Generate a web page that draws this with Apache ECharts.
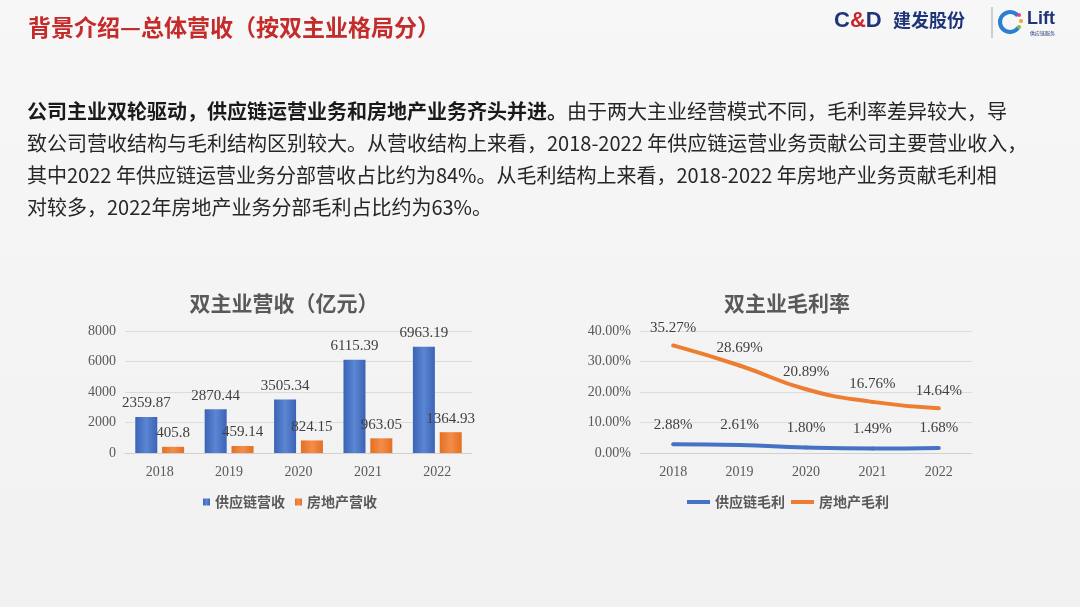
<!DOCTYPE html>
<html>
<head>
<meta charset="utf-8">
<script src="https://cdn.jsdelivr.net/npm/echarts@6/dist/echarts.min.js"></script>
<style>
html,body{margin:0;padding:0;background:#f4f4f4;}
#main{width:1080px;height:607px;}
</style>
</head>
<body>
<div id="main"></div>
<script>
// ---- data ----
var years = ['2018', '2019', '2020', '2021', '2022'];
var supplyRevenue = [2359.87, 2870.44, 3505.34, 6115.39, 6963.19];
var realEstateRevenue = [405.8, 459.14, 824.15, 963.05, 1364.93];
var supplyMargin = [2.88, 2.61, 1.80, 1.49, 1.68];
var realEstateMargin = [35.27, 28.69, 20.89, 16.76, 14.64];
var revenueNames = ['供应链营收', '房地产营收'];
var marginNames = ['供应链毛利', '房地产毛利'];

var cjk = '"Noto Sans CJK SC", "Noto Sans", sans-serif';
var serif = '"Liberation Serif", "DejaVu Serif", serif';
var blue = '#4472c4', orange = '#ed7d31', grey = '#595959';

var chart = echarts.init(document.getElementById('main'));

function barGrad(c1, c2) {
  return new echarts.graphic.LinearGradient(0, 0, 1, 0, [
    {offset: 0, color: c1}, {offset: 0.5, color: c2}, {offset: 1, color: c1}
  ]);
}
function pct(p) { return p.value.toFixed(2) + '%'; }

var option = {
  backgroundColor: new echarts.graphic.LinearGradient(0, 0, 0, 1, [
    {offset: 0, color: '#f7f7f7'}, {offset: 1, color: '#f1f1f1'}
  ]),
  animation: false,
  title: [
    {text: '双主业营收（亿元）', left: 279, top: 288, textAlign: 'center',
     textStyle: {fontFamily: cjk, fontSize: 21, fontWeight: 'bold', color: grey}},
    {text: '双主业毛利率', left: 782, top: 288, textAlign: 'center',
     textStyle: {fontFamily: cjk, fontSize: 21, fontWeight: 'bold', color: grey}}
  ],
  legend: [
    {data: revenueNames, left: 198, top: 490, icon: 'rect',
     itemWidth: 7, itemHeight: 7, itemGap: 10,
     textStyle: {fontFamily: cjk, fontSize: 14, color: grey, fontWeight: 'bold'}},
    {data: marginNames, left: 682, top: 490, icon: 'rect', itemWidth: 23, itemHeight: 4, itemGap: 6,
     textStyle: {fontFamily: cjk, fontSize: 14, color: grey, fontWeight: 'bold'}}
  ],
  grid: [
    {left: 125, right: 608, top: 331, bottom: 154},
    {left: 640, right: 108, top: 331, bottom: 154}
  ],
  xAxis: [
    {type: 'category', gridIndex: 0, data: years,
     axisLine: {lineStyle: {color: '#d0d0d0'}}, axisTick: {show: false},
     axisLabel: {fontFamily: serif, fontSize: 14, color: grey, margin: 12}},
    {type: 'category', gridIndex: 1, data: years,
     axisLine: {lineStyle: {color: '#d0d0d0'}}, axisTick: {show: false},
     axisLabel: {fontFamily: serif, fontSize: 14, color: grey, margin: 12}}
  ],
  yAxis: [
    {type: 'value', gridIndex: 0, min: 0, max: 8000, interval: 2000,
     axisLine: {show: false}, axisTick: {show: false},
     splitLine: {lineStyle: {color: '#dcdcdc'}},
     axisLabel: {fontFamily: serif, fontSize: 14, color: grey, margin: 9,
       formatter: function (v) { return String(v); }}},
    {type: 'value', gridIndex: 1, min: 0, max: 40, interval: 10,
     axisLine: {show: false}, axisTick: {show: false},
     splitLine: {lineStyle: {color: '#dcdcdc'}},
     axisLabel: {fontFamily: serif, fontSize: 14, color: grey, margin: 9,
       formatter: function (v) { return v.toFixed(2) + '%'; }}}
  ],
  series: [
    {name: revenueNames[0], type: 'bar', xAxisIndex: 0, yAxisIndex: 0, data: supplyRevenue,
     barWidth: 22, barGap: '22%',
     itemStyle: {color: barGrad('#3b64b4', '#5b86d4')},
     label: {show: true, position: 'top', distance: 6, fontFamily: serif, fontSize: 15, color: '#404040'}},
    {name: revenueNames[1], type: 'bar', xAxisIndex: 0, yAxisIndex: 0, data: realEstateRevenue,
     barWidth: 22,
     itemStyle: {color: barGrad('#e46f22', '#f48d4a')},
     label: {show: true, position: 'top', distance: 6, fontFamily: serif, fontSize: 15, color: '#404040'}},
    {name: marginNames[0], type: 'line', xAxisIndex: 1, yAxisIndex: 1, data: supplyMargin,
     smooth: true, symbol: 'circle', symbolSize: 4, showSymbol: true,
     lineStyle: {width: 4, color: blue}, itemStyle: {color: blue},
     label: {show: true, position: 'top', distance: 10, fontFamily: serif, fontSize: 15, color: '#404040',
       formatter: pct}},
    {name: marginNames[1], type: 'line', xAxisIndex: 1, yAxisIndex: 1, data: realEstateMargin,
     smooth: true, symbol: 'circle', symbolSize: 4, showSymbol: true,
     lineStyle: {width: 4, color: orange}, itemStyle: {color: orange},
     label: {show: true, position: 'top', distance: 8, fontFamily: serif, fontSize: 15, color: '#404040',
       formatter: pct}}
  ],
  graphic: [
    {type: 'text', left: 28, top: 16,
     style: {text: '背景介绍—总体营收（按双主业格局分）', font: 'bold 23px ' + cjk, fill: '#c42b2b'}},
    // logo
    {type: 'text', left: 834, top: 10,
     style: {text: '{c|C}{a|&}{c|D}', rich: {
       c: {fontFamily: '"Liberation Sans", sans-serif', fontSize: 22, fontWeight: 'bold', fill: '#1f3579', color: '#1f3579'},
       a: {fontFamily: '"Liberation Sans", sans-serif', fontSize: 22, fontWeight: 'bold', fill: '#c8262d', color: '#c8262d'}}}},
    {type: 'text', left: 893, top: 11,
     style: {text: '建发股份', font: 'bold 18px ' + cjk, fill: '#1f3579'}},
    {type: 'line', shape: {x1: 992, y1: 7, x2: 992, y2: 38}, style: {stroke: '#9aa3b5', lineWidth: 1}},
    {type: 'arc', shape: {cx: 1010, cy: 22, r: 10, startAngle: 0.6, endAngle: 5.6},
     style: {stroke: '#2a7fd0', lineWidth: 4, fill: null}},
    {type: 'circle', shape: {cx: 1019, cy: 15, r: 2}, style: {fill: '#e83e8c'}},
    {type: 'circle', shape: {cx: 1021, cy: 21, r: 2}, style: {fill: '#f5a623'}},
    {type: 'circle', shape: {cx: 1019, cy: 27, r: 2}, style: {fill: '#7ac142'}},
    {type: 'text', left: 1027, top: 10,
     style: {text: 'Lift', font: 'bold 18px "Liberation Sans", sans-serif', fill: '#1f3579'}},
    {type: 'text', left: 1030, top: 31,
     style: {text: '供应链服务', font: '5px ' + cjk, fill: '#1f3579'}},
    // paragraph
    {type: 'text', left: 27, top: 101,
     style: {text: '{b|公司主业双轮驱动，供应链运营业务和房地产业务齐头并进。}{n|由于两大主业经营模式不同，毛利率差异较大，导}',
       rich: {b: {fontFamily: cjk, fontSize: 20, fontWeight: 'bold', fill: '#1a1a1a', color: '#1a1a1a'},
              n: {fontFamily: cjk, fontSize: 20, fill: '#262626', color: '#262626'}}}},
    {type: 'text', left: 27, top: 133,
     style: {text: '致公司营收结构与毛利结构区别较大。从营收结构上来看，2018-2022 年供应链运营业务贡献公司主要营业收入，',
       font: '20px ' + cjk, fill: '#262626'}},
    {type: 'text', left: 27, top: 165,
     style: {text: '其中2022 年供应链运营业务分部营收占比约为84%。从毛利结构上来看，2018-2022 年房地产业务贡献毛利相',
       font: '20px ' + cjk, fill: '#262626'}},
    {type: 'text', left: 27, top: 197,
     style: {text: '对较多，2022年房地产业务分部毛利占比约为63%。',
       font: '20px ' + cjk, fill: '#262626'}}
  ]
};
chart.setOption(option);
</script>
</body>
</html>
